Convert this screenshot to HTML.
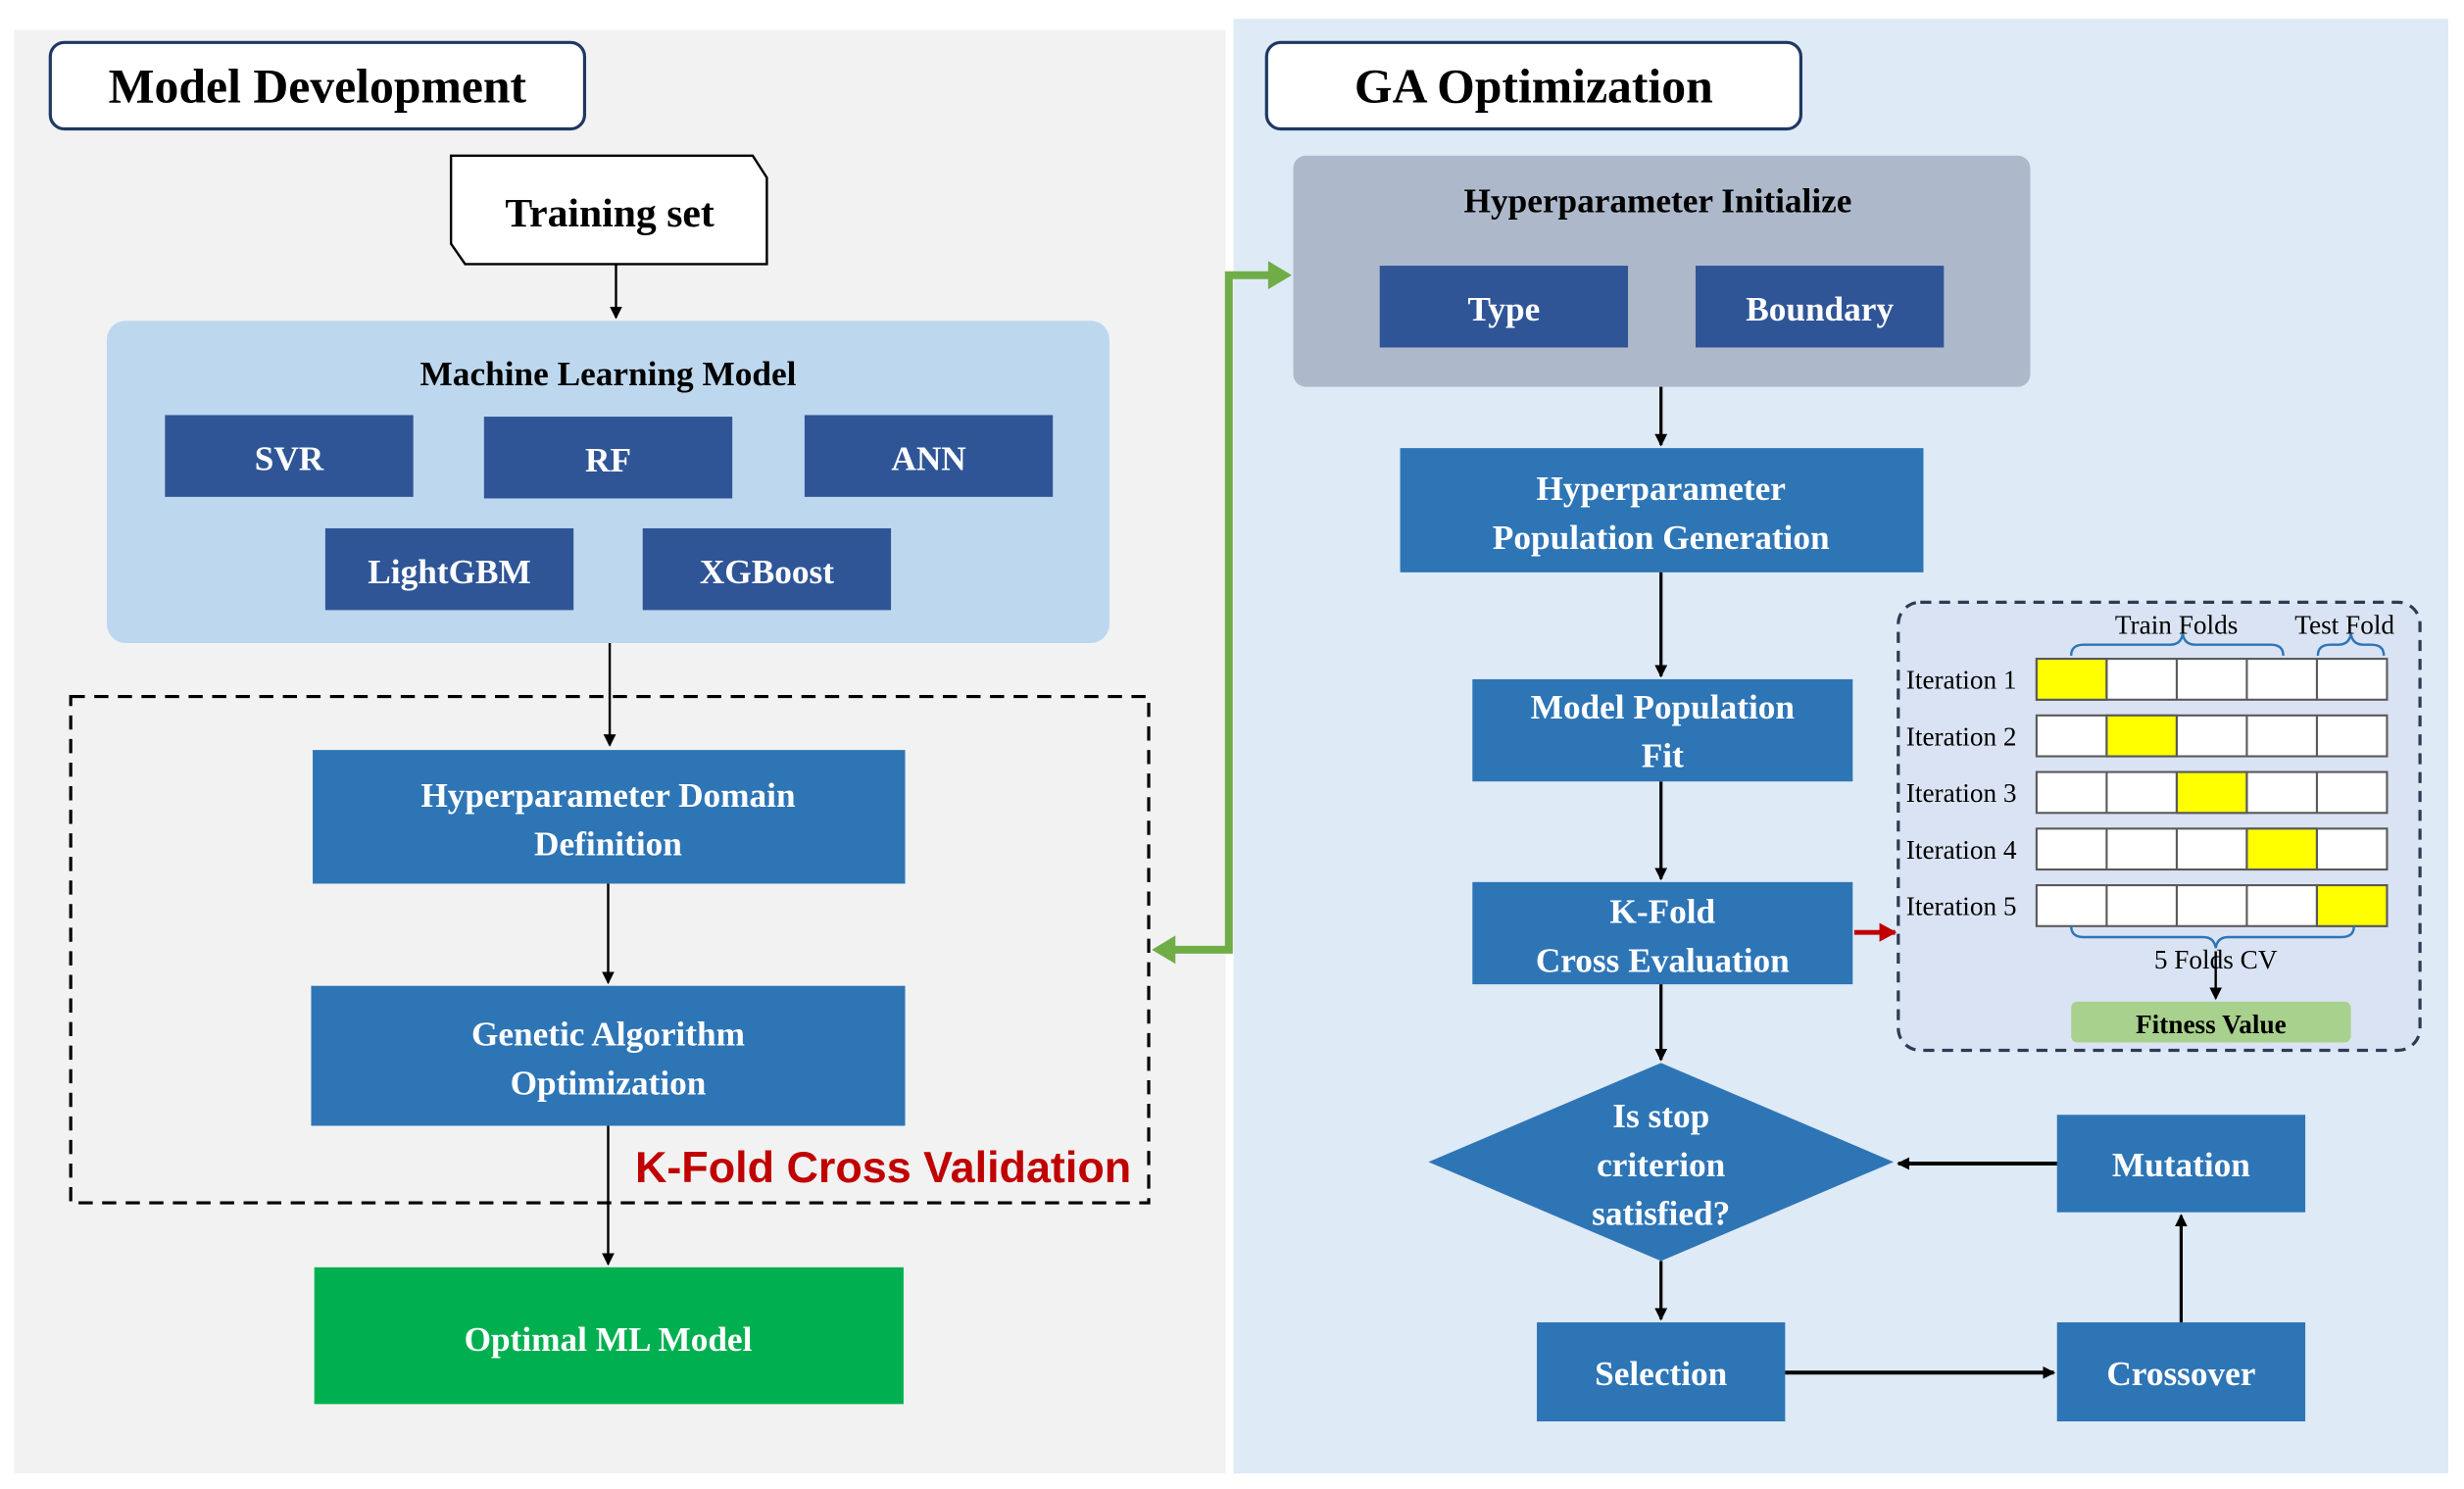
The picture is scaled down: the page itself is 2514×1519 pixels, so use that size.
<!DOCTYPE html>
<html><head><meta charset="utf-8"><style>
html,body{margin:0;padding:0;background:#fff;width:2514px;height:1519px;overflow:hidden}
svg{display:block}
text{font-family:"Liberation Serif",serif;font-weight:bold}
text.n{font-weight:normal}
</style></head><body>
<svg width="2514" height="1519" viewBox="0 0 1568 947" preserveAspectRatio="none" xmlns="http://www.w3.org/2000/svg">
<defs>
<marker id="a" markerWidth="8" markerHeight="8" refX="7" refY="4" orient="auto" markerUnits="userSpaceOnUse"><path d="M0,0 L8,4 L0,8 z" fill="#000"/></marker>
<marker id="r" markerWidth="12" markerHeight="12" refX="10" refY="6" orient="auto" markerUnits="userSpaceOnUse"><path d="M0,0 L11,6 L0,12 z" fill="#c00000"/></marker>
</defs>
<rect x="0" y="0" width="1568" height="947" fill="#fff"/>
<rect x="9" y="19" width="771" height="918" fill="#f2f2f2"/>
<rect x="785" y="12" width="773" height="925" fill="#deeaf6"/>

<rect x="32" y="27" width="340" height="55" rx="9" fill="#fff" stroke="#1f3864" stroke-width="2"/>
<text x="202" y="65" font-size="31" text-anchor="middle">Model Development</text>
<rect x="806" y="27" width="340" height="55" rx="9" fill="#fff" stroke="#1f3864" stroke-width="2"/>
<text x="976" y="65" font-size="31" text-anchor="middle">GA Optimization</text>

<polygon points="287,99 479,99 488,113 488,168 296,168 287,155" fill="#fff" stroke="#000" stroke-width="1.5"/>
<text x="388" y="144" font-size="26" text-anchor="middle">Training set</text>
<line x1="392" y1="168" x2="392" y2="202" stroke="#000" stroke-width="1.5" marker-end="url(#a)"/>

<rect x="68" y="204" width="638" height="205" rx="12" fill="#bdd7ee"/>
<text x="387" y="245" font-size="22" text-anchor="middle">Machine Learning Model</text>
<g fill="#2f5597">
<rect x="105" y="264" width="158" height="52"/><rect x="308" y="265" width="158" height="52"/><rect x="512" y="264" width="158" height="52"/>
<rect x="207" y="336" width="158" height="52"/><rect x="409" y="336" width="158" height="52"/>
</g>
<text x="184" y="299" font-size="22" text-anchor="middle" fill="#fff">SVR</text><text x="387" y="300" font-size="22" text-anchor="middle" fill="#fff">RF</text><text x="591" y="299" font-size="22" text-anchor="middle" fill="#fff">ANN</text>
<text x="286" y="371" font-size="22" text-anchor="middle" fill="#fff">LightGBM</text><text x="488" y="371" font-size="22" text-anchor="middle" fill="#fff">XGBoost</text>
<line x1="388" y1="409" x2="388" y2="474" stroke="#000" stroke-width="1.5" marker-end="url(#a)"/>

<rect x="45" y="443" width="686" height="322" fill="none" stroke="#000" stroke-width="2" stroke-dasharray="9,6"/>
<rect x="199" y="477" width="377" height="85" fill="#2e75b6"/>
<text x="387" y="513" font-size="22" text-anchor="middle" fill="#fff">Hyperparameter  Domain</text>
<text x="387" y="544" font-size="22" text-anchor="middle" fill="#fff">Definition</text>
<line x1="387" y1="562" x2="387" y2="625" stroke="#000" stroke-width="1.5" marker-end="url(#a)"/>
<rect x="198" y="627" width="378" height="89" fill="#2e75b6"/>
<text x="387" y="665" font-size="22" text-anchor="middle" fill="#fff">Genetic Algorithm</text>
<text x="387" y="696" font-size="22" text-anchor="middle" fill="#fff">Optimization</text>
<text x="562" y="752" font-size="28" text-anchor="middle" fill="#c00000" style="font-family:'Liberation Sans',sans-serif">K-Fold Cross Validation</text>
<line x1="387" y1="716" x2="387" y2="804" stroke="#000" stroke-width="1.5" marker-end="url(#a)"/>
<rect x="200" y="806" width="375" height="87" fill="#00b050"/>
<text x="387" y="859" font-size="22" text-anchor="middle" fill="#fff">Optimal ML Model</text>

<polyline points="746,604 782,604 782,175 808,175" fill="none" stroke="#70ad47" stroke-width="5"/>
<path d="M733,604 L748,595 L748,613 z" fill="#70ad47"/>
<path d="M822,175 L807,166 L807,184 z" fill="#70ad47"/>

<rect x="823" y="99" width="469" height="147" rx="8" fill="#adb9ca"/>
<text x="1055" y="135" font-size="22" text-anchor="middle">Hyperparameter  Initialize</text>
<rect x="878" y="169" width="158" height="52" fill="#2f5597"/>
<rect x="1079" y="169" width="158" height="52" fill="#2f5597"/>
<text x="957" y="204" font-size="22" text-anchor="middle" fill="#fff">Type</text>
<text x="1158" y="204" font-size="22" text-anchor="middle" fill="#fff">Boundary</text>
<line x1="1057" y1="246" x2="1057" y2="283" stroke="#000" stroke-width="2" marker-end="url(#a)"/>
<rect x="891" y="285" width="333" height="79" fill="#2e75b6"/>
<text x="1057" y="318" font-size="22" text-anchor="middle" fill="#fff">Hyperparameter</text>
<text x="1057" y="349" font-size="22" text-anchor="middle" fill="#fff">Population Generation</text>
<line x1="1057" y1="364" x2="1057" y2="430" stroke="#000" stroke-width="2" marker-end="url(#a)"/>
<rect x="937" y="432" width="242" height="65" fill="#2e75b6"/>
<text x="1058" y="457" font-size="22" text-anchor="middle" fill="#fff">Model Population</text>
<text x="1058" y="488" font-size="22" text-anchor="middle" fill="#fff">Fit</text>
<line x1="1057" y1="497" x2="1057" y2="559" stroke="#000" stroke-width="2" marker-end="url(#a)"/>
<rect x="937" y="561" width="242" height="65" fill="#2e75b6"/>
<text x="1058" y="587" font-size="22" text-anchor="middle" fill="#fff">K-Fold</text>
<text x="1058" y="618" font-size="22" text-anchor="middle" fill="#fff">Cross  Evaluation</text>
<line x1="1180" y1="593" x2="1206" y2="593" stroke="#c00000" stroke-width="3" marker-end="url(#r)"/>
<line x1="1057" y1="626" x2="1057" y2="674" stroke="#000" stroke-width="2" marker-end="url(#a)"/>
<polygon points="1057,676 1205,739 1057,802 909,739" fill="#2e75b6"/>
<text x="1057" y="717" font-size="22" text-anchor="middle" fill="#fff">Is stop</text>
<text x="1057" y="748" font-size="22" text-anchor="middle" fill="#fff">criterion</text>
<text x="1057" y="779" font-size="22" text-anchor="middle" fill="#fff">satisfied?</text>
<line x1="1057" y1="802" x2="1057" y2="839" stroke="#000" stroke-width="2" marker-end="url(#a)"/>
<rect x="978" y="841" width="158" height="63" fill="#2e75b6"/>
<rect x="1309" y="841" width="158" height="63" fill="#2e75b6"/>
<rect x="1309" y="709" width="158" height="62" fill="#2e75b6"/>
<text x="1057" y="881" font-size="22" text-anchor="middle" fill="#fff">Selection</text>
<text x="1388" y="881" font-size="22" text-anchor="middle" fill="#fff">Crossover</text>
<text x="1388" y="748" font-size="22" text-anchor="middle" fill="#fff">Mutation</text>
<line x1="1136" y1="873" x2="1307" y2="873" stroke="#000" stroke-width="2.5" marker-end="url(#a)"/>
<line x1="1388" y1="841" x2="1388" y2="773" stroke="#000" stroke-width="2" marker-end="url(#a)"/>
<line x1="1309" y1="740" x2="1208" y2="740" stroke="#000" stroke-width="2.5" marker-end="url(#a)"/>

<rect x="1208" y="383" width="332" height="285" rx="14" fill="#dae3f3" stroke="#2f3b55" stroke-width="2" stroke-dasharray="7,5"/>
<text class="n" x="1385" y="403" font-size="17" text-anchor="middle">Train Folds</text>
<text class="n" x="1492" y="403" font-size="17" text-anchor="middle">Test Fold</text>
<path d="M1318,417 q0,-7 8,-7 h55 q7,0 8,-7 q1,7 8,7 h48 q8,0 8,7" fill="none" stroke="#2e75b6" stroke-width="1.5"/>
<path d="M1475,417 q0,-7 8,-7 h5 q7,0 8,-7 q1,7 8,7 h5 q8,0 8,7" fill="none" stroke="#2e75b6" stroke-width="1.5"/>
<g stroke="#595959" stroke-width="1.3">
<g fill="#fff">
<rect x="1296" y="419" width="223" height="26"/><rect x="1296" y="455" width="223" height="26"/><rect x="1296" y="491" width="223" height="26"/><rect x="1296" y="527" width="223" height="26"/><rect x="1296" y="563" width="223" height="26"/>
</g>
<g fill="#ffff00">
<rect x="1296" y="419" width="44.6" height="26"/><rect x="1340.6" y="455" width="44.6" height="26"/><rect x="1385.2" y="491" width="44.6" height="26"/><rect x="1429.8" y="527" width="44.6" height="26"/><rect x="1474.4" y="563" width="44.6" height="26"/>
</g>
<path d="M1340.6,419 V445 M1385.2,419 V445 M1429.8,419 V445 M1474.4,419 V445 M1340.6,455 V481 M1385.2,455 V481 M1429.8,455 V481 M1474.4,455 V481 M1340.6,491 V517 M1385.2,491 V517 M1429.8,491 V517 M1474.4,491 V517 M1340.6,527 V553 M1385.2,527 V553 M1429.8,527 V553 M1474.4,527 V553 M1340.6,563 V589 M1385.2,563 V589 M1429.8,563 V589 M1474.4,563 V589"/>
</g>
<text class="n" x="1213" y="438" font-size="17">Iteration 1</text>
<text class="n" x="1213" y="474" font-size="17">Iteration 2</text>
<text class="n" x="1213" y="510" font-size="17">Iteration 3</text>
<text class="n" x="1213" y="546" font-size="17">Iteration 4</text>
<text class="n" x="1213" y="582" font-size="17">Iteration 5</text>
<path d="M1318,589 q0,7 8,7 h76 q7,0 8,7 q1,-7 8,-7 h72 q8,0 8,-7" fill="none" stroke="#2e75b6" stroke-width="1.5"/>
<text class="n" x="1410" y="616" font-size="17" text-anchor="middle">5 Folds CV</text>
<line x1="1410" y1="605" x2="1410" y2="635" stroke="#000" stroke-width="1.5" marker-end="url(#a)"/>
<rect x="1318" y="637" width="178" height="26" rx="4" fill="#a9d18e"/>
<text x="1407" y="657" font-size="17" text-anchor="middle">Fitness Value</text>
</svg>
</body></html>
